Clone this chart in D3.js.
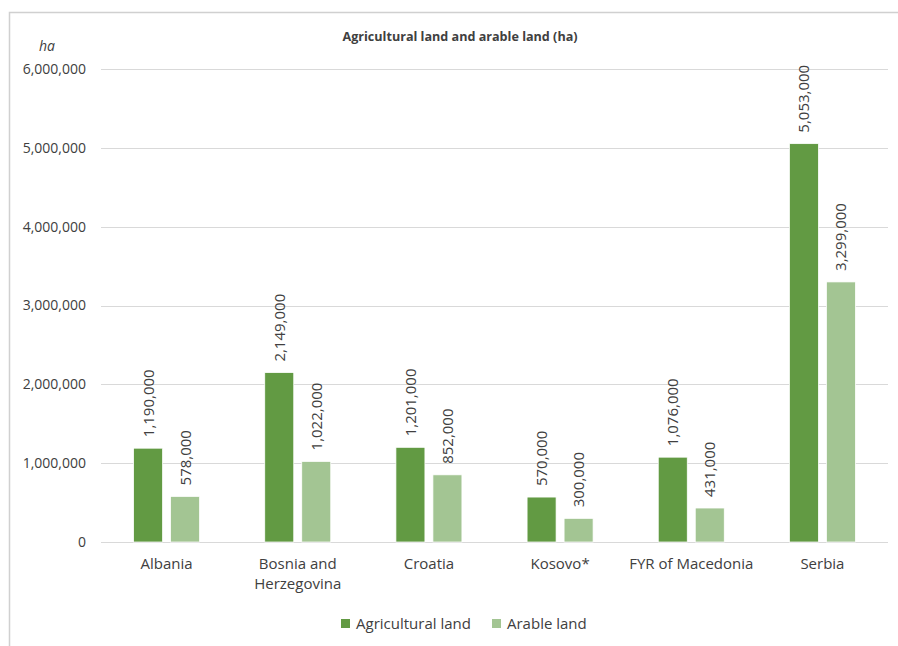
<!DOCTYPE html>
<html>
<head>
<meta charset="utf-8">
<script src="https://cdn.jsdelivr.net/npm/d3@7"></script>
<style>
  html, body { margin: 0; padding: 0; background: #fff; }
  svg { display: block; font-family: "Open Sans", sans-serif; }
  svg text { font-family: "Open Sans", sans-serif; }
</style>
</head>
<body>
<svg id="chart" width="898" height="646"></svg>
<script>
const categories = ["Albania", "Bosnia and Herzegovina", "Croatia", "Kosovo*", "FYR of Macedonia", "Serbia"];
const categoryLines = [["Albania"], ["Bosnia and", "Herzegovina"], ["Croatia"], ["Kosovo*"], ["FYR of Macedonia"], ["Serbia"]];
const agriculturalLand = [1190000, 2149000, 1201000, 570000, 1076000, 5053000];
const arableLand = [578000, 1022000, 852000, 300000, 431000, 3299000];
const seriesNames = ["Agricultural land", "Arable land"];
const yTicks = [0, 1000000, 2000000, 3000000, 4000000, 5000000, 6000000];

const colors = ["#629A43", "#A3C593"];
const textColor = "#404040";
const svg = d3.select("#chart");

// outer border
svg.append("rect").attr("x", 9.5).attr("y", 12.5).attr("width", 900).attr("height", 700)
  .attr("fill", "none").attr("stroke", "#D0D0D0").attr("stroke-width", 1.5);

const plotLeft = 101, plotRight = 888;
const x0 = d3.scaleBand().domain(categories).range([plotLeft, plotRight]).paddingInner(0).paddingOuter(0);
const y = d3.scaleLinear().domain([0, 6000000]).range([542, 69]);

const barW = 29, gap = 8;
const x1 = d3.scaleOrdinal().domain([0, 1]).range([-(barW + gap / 2), gap / 2]);

// gridlines
svg.append("g").selectAll("line").data(yTicks).join("line")
  .attr("x1", plotLeft).attr("x2", plotRight)
  .attr("y1", d => Math.round(y(d)) + 0.5).attr("y2", d => Math.round(y(d)) + 0.5)
  .attr("stroke", "#D9D9D9").attr("stroke-width", 1);

// y axis labels
const fmt = d3.format(",");
const yAxis = d3.axisLeft(y).tickValues(yTicks).tickFormat(fmt).tickSize(0).tickPadding(15);
const yg = svg.append("g").attr("transform", `translate(${plotLeft},0)`).call(yAxis);
yg.attr("font-size", null).attr("font-family", null);
yg.select(".domain").remove();
yg.selectAll("text").attr("fill", textColor).style("font-size", "14px");

// ha label
svg.append("text").attr("x", 47).attr("y", 51).attr("text-anchor", "middle")
  .attr("font-style", "italic").attr("fill", textColor).style("font-size", "14px").text("ha");

// title
svg.append("text").attr("x", 460).attr("y", 41).attr("text-anchor", "middle")
  .attr("font-weight", "bold").attr("fill", textColor).style("font-size", "12.6px")
  .text("Agricultural land and arable land (ha)");

const series = [agriculturalLand, arableLand];
series.forEach((vals, si) => {
  const g = svg.append("g");
  g.selectAll("rect").data(vals).join("rect")
    .attr("x", (d, i) => x0(categories[i]) + x0.bandwidth() / 2 + x1(si))
    .attr("y", d => y(d))
    .attr("width", barW)
    .attr("height", d => y(0) - y(d))
    .attr("fill", colors[si])
    .attr("stroke", "#fff").attr("stroke-width", 0.75);
  g.selectAll("text").data(vals).join("text")
    .attr("transform", (d, i) => {
      const cx = x0(categories[i]) + x0.bandwidth() / 2 + x1(si) + barW / 2 + 5.5;
      return `translate(${cx},${y(d) - 11}) rotate(-90)`;
    })
    .attr("text-anchor", "start")
    .attr("fill", textColor).style("font-size", "15px")
    .text(d => fmt(d));
});

// category labels
const cg = svg.append("g");
categoryLines.forEach((lines, i) => {
  const cx = x0(categories[i]) + x0.bandwidth() / 2;
  const t = cg.append("text").attr("x", cx).attr("y", 569)
    .attr("text-anchor", "middle").attr("fill", textColor).style("font-size", "15px");
  lines.forEach((ln, j) => {
    t.append("tspan").attr("x", cx).attr("dy", j === 0 ? 0 : 20).text(ln);
  });
});

// legend
const legend = svg.append("g");
const legendX = [341, 492];
seriesNames.forEach((n, i) => {
  legend.append("rect").attr("x", legendX[i]).attr("y", 619).attr("width", 9).attr("height", 9).attr("fill", colors[i]);
  legend.append("text").attr("x", legendX[i] + 15).attr("y", 629).attr("fill", textColor)
    .style("font-size", "15px").text(n);
});
</script>
</body>
</html>
